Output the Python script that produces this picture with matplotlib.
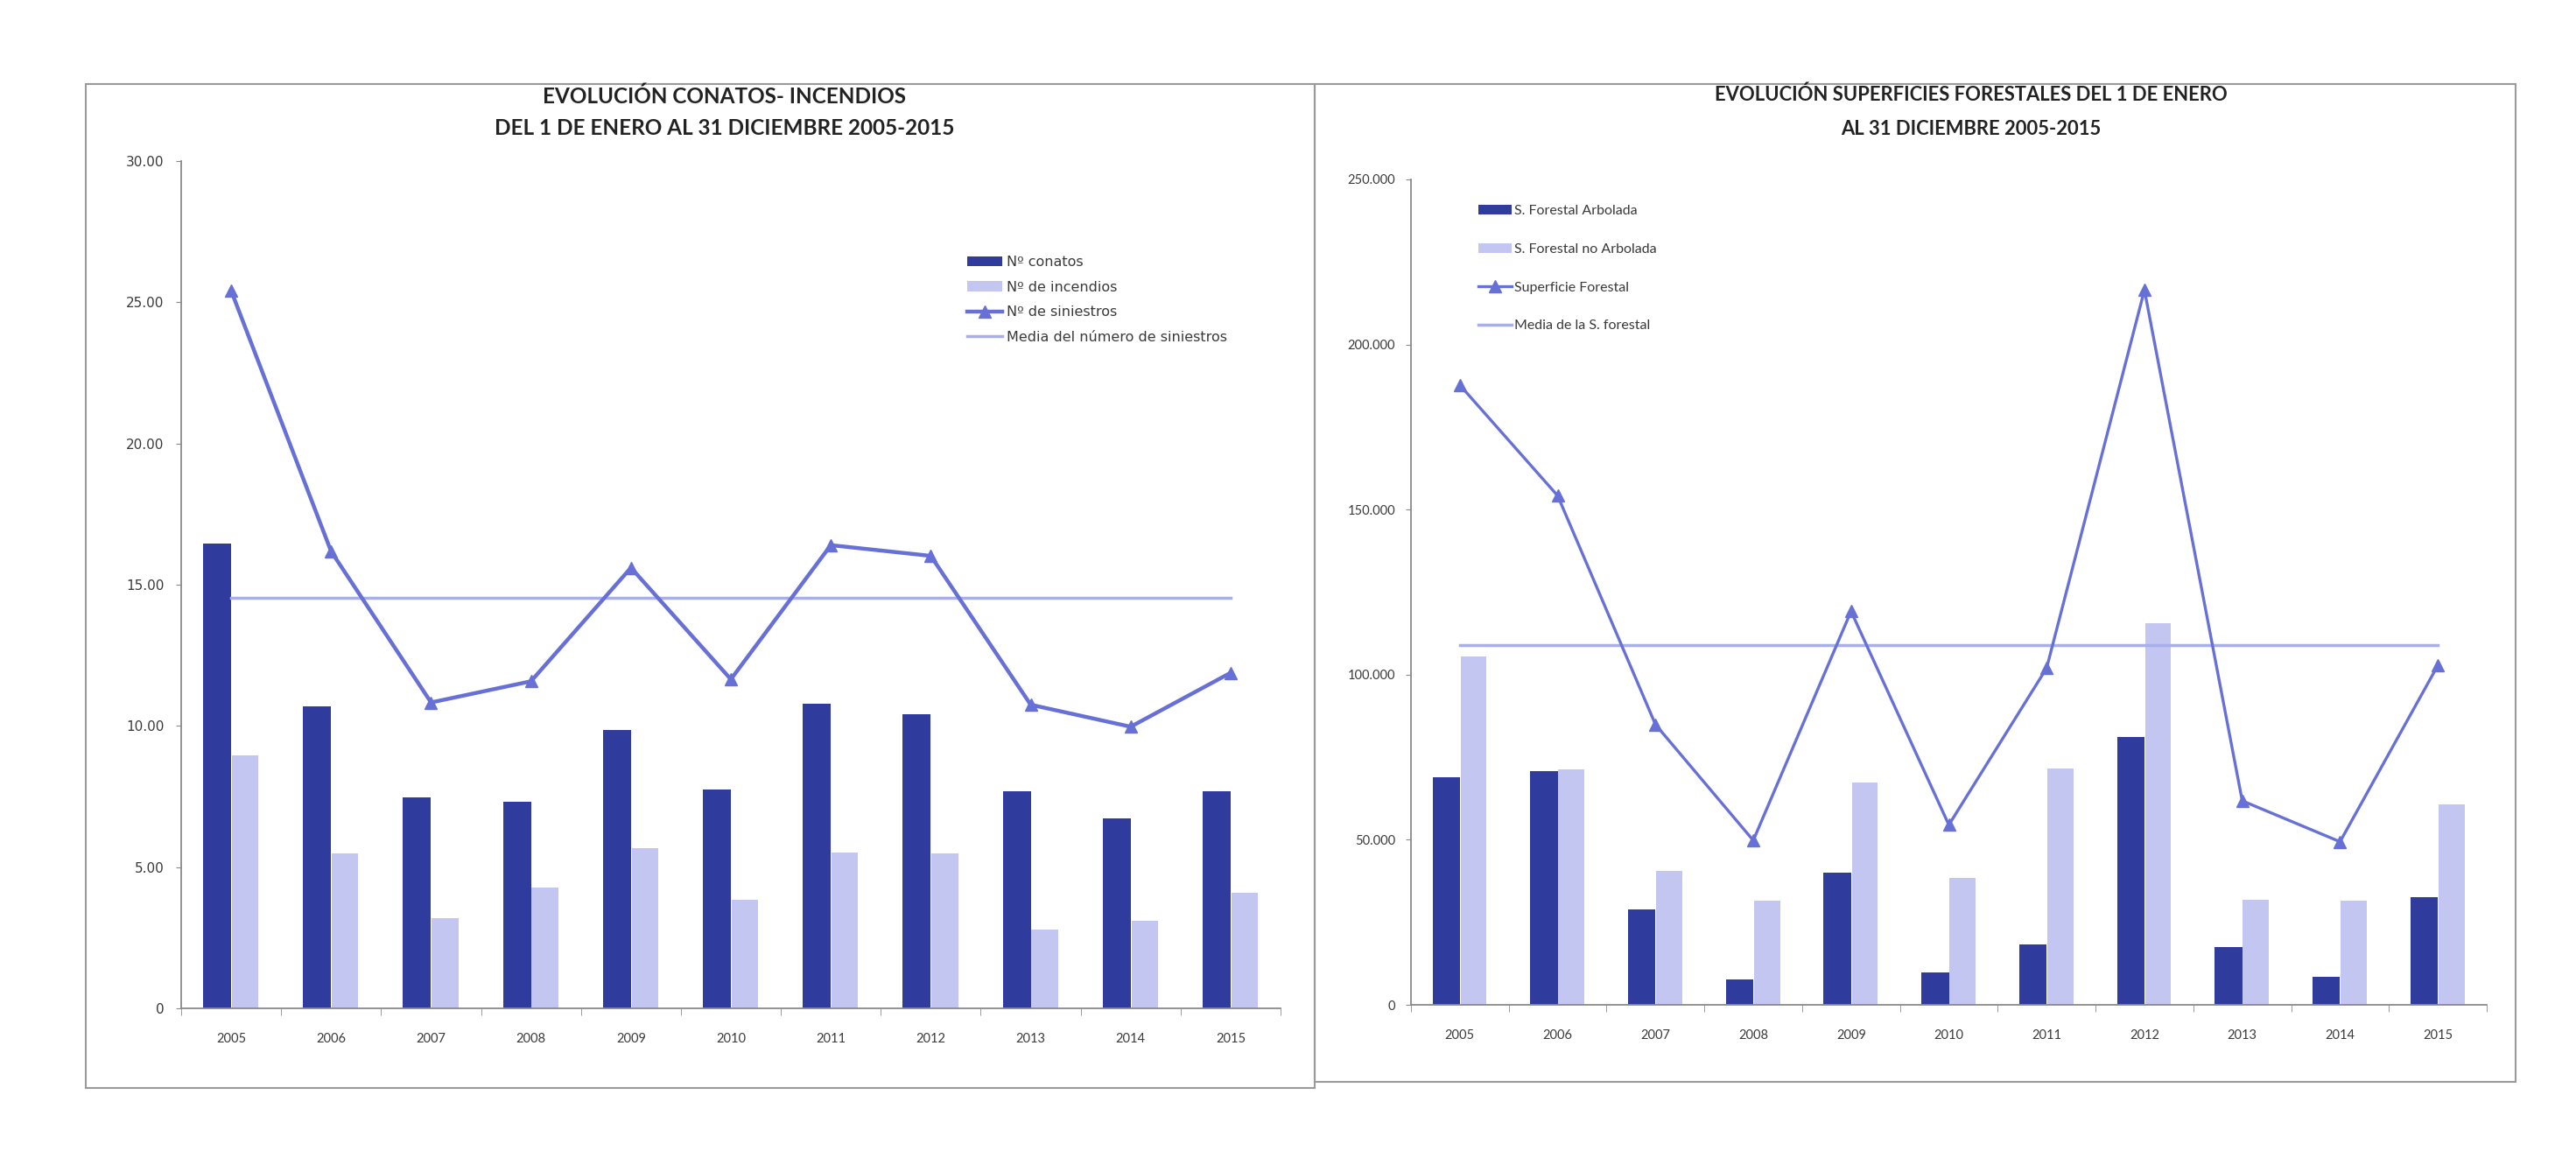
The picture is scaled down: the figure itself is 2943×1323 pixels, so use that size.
import matplotlib
matplotlib.use("Agg")
import matplotlib.pyplot as plt
from matplotlib.patches import Rectangle
import numpy as np

plt.rcParams['font.family'] = ['Lato', 'DejaVu Sans']

# ---------------- data ----------------
years = ["2005", "2006", "2007", "2008", "2009", "2010", "2011", "2012", "2013", "2014", "2015"]

# left chart
n_conatos = [16.45, 10.70, 7.48, 7.30, 9.86, 7.74, 10.78, 10.40, 7.70, 6.71, 7.70]
n_incendios = [8.96, 5.48, 3.18, 4.28, 5.67, 3.85, 5.53, 5.48, 2.78, 3.10, 4.09]
n_siniestros = [25.41, 16.18, 10.83, 11.58, 15.60, 11.65, 16.40, 16.02, 10.75, 9.97, 11.88]
media_siniestros = 14.52
left_yticks = [0, 5, 10, 15, 20, 25, 30]
left_yticklabels = ["0", "5.00", "10.00", "15.00", "20.00", "25.00", "30.00"]

# right chart
s_arbolada = [68800, 70900, 28800, 7800, 40000, 9800, 18400, 81000, 17400, 8600, 32700]
s_no_arbolada = [105600, 71200, 40500, 31500, 67300, 38500, 71700, 115700, 31900, 31500, 60700]
s_forestal = [187700, 154200, 84900, 49800, 119200, 54500, 102000, 216500, 61800, 49400, 102800]
media_forestal = 109000
right_yticks = [0, 50000, 100000, 150000, 200000, 250000]
right_yticklabels = ["0", "50.000", "100.000", "150.000", "200.000", "250.000"]

# ---------------- styles ----------------
DARK = "#2F3C9E"
LIGHT = "#C2C6F0"
LINE = "#6670D6"
MEAN = "#A9AFEA"
AXC = "#8A8A8A"
TXT = "#3A3A3A"

W, H = 2943, 1323
fig = plt.figure(figsize=(W / 100, H / 100), dpi=100)
fig.patch.set_facecolor("white")

# panel frames
fig.patches.append(Rectangle((98 / W, 1 - 1243 / H), (1502 - 98) / W, (1243 - 96) / H,
                             transform=fig.transFigure, fill=False, edgecolor="#9A9A9A", lw=1.5))
fig.patches.append(Rectangle((1502 / W, 1 - 1236 / H), (2874 - 1502) / W, (1236 - 96) / H,
                             transform=fig.transFigure, fill=False, edgecolor="#9A9A9A", lw=1.5))

x = np.arange(len(years))
bw = 0.28


def style_axes(ax, fs_y, fs_x, ypad, yfam):
    for s in ["top", "right"]:
        ax.spines[s].set_visible(False)
    for s in ["left", "bottom"]:
        ax.spines[s].set_color(AXC)
        ax.spines[s].set_linewidth(1.3)
    ax.set_xlim(-0.5, len(years) - 0.5)
    ax.set_xticks(x)
    ax.set_xticklabels(years, fontsize=fs_x, color=TXT)
    ax.set_xticks(np.arange(len(years) + 1) - 0.5, minor=True)
    ax.tick_params(axis="x", which="major", length=0, pad=20)
    ax.tick_params(axis="x", which="minor", length=6, color=AXC, direction="out")
    ax.tick_params(axis="y", length=4, color=AXC, pad=ypad, labelsize=fs_y, labelcolor=TXT)
    for t in ax.get_yticklabels():
        t.set_family(yfam)


def ordered_legend(ax, **kw):
    h, l = ax.get_legend_handles_labels()
    order = [2, 3, 0, 1]
    return ax.legend([h[i] for i in order], [l[i] for i in order], **kw)


# ---------------- left chart ----------------
axL = fig.add_axes([207 / W, 1 - 1152 / H, (1463 - 207) / W, (1152 - 184) / H])
axL.plot(x, n_siniestros, color=LINE, lw=3.2, marker="^", markersize=10,
         label="Nº de siniestros", zorder=4)
axL.plot(x, [media_siniestros] * len(years), color=MEAN, lw=2.5,
         label="Media del número de siniestros", zorder=3)
axL.bar(x - bw / 2, n_conatos, width=bw, color=DARK, label="Nº conatos", zorder=2)
axL.bar(x + bw / 2, n_incendios, width=bw * 0.95, color=LIGHT, label="Nº de incendios", zorder=2)
axL.set_ylim(0, 30)
axL.set_yticks(left_yticks)
axL.set_yticklabels(left_yticklabels)
style_axes(axL, 11, 10.5, 10, ['DejaVu Sans'])
ordered_legend(axL, loc="upper left", bbox_to_anchor=((1105 - 207) / 1256, (1152 - 292) / 968),
               frameon=False, prop={'family': ['DejaVu Sans'], 'size': 11.5},
               borderpad=0, borderaxespad=0,
               labelspacing=0.85, handlelength=2.5, handletextpad=0.3, numpoints=1,
               labelcolor=TXT)

fig.text(828 / W, 1 - 110 / H, "EVOLUCIÓN CONATOS- INCENDIOS", ha="center", va="center",
         fontsize=17.5, fontweight="bold", color="#222222")
fig.text(828 / W, 1 - 147 / H, "DEL 1 DE ENERO AL 31 DICIEMBRE 2005-2015", ha="center",
         va="center", fontsize=17.5, fontweight="bold", color="#222222")

# ---------------- right chart ----------------
axR = fig.add_axes([1612 / W, 1 - 1148 / H, (2841 - 1612) / W, (1148 - 205) / H])
axR.plot(x, s_forestal, color=LINE, lw=2.4, marker="^", markersize=10,
         label="Superficie Forestal", zorder=4)
axR.plot(x, [media_forestal] * len(years), color=MEAN, lw=2.5,
         label="Media de la S. forestal", zorder=3)
axR.bar(x - bw / 2, s_arbolada, width=bw, color=DARK, label="S. Forestal Arbolada", zorder=2)
axR.bar(x + bw / 2, s_no_arbolada, width=bw * 0.95, color=LIGHT,
        label="S. Forestal no Arbolada", zorder=2)
axR.set_ylim(0, 250000)
axR.set_yticks(right_yticks)
axR.set_yticklabels(right_yticklabels)
style_axes(axR, 10.5, 10.5, 9, ['Lato'])
ordered_legend(axR, loc="upper left", bbox_to_anchor=((1689 - 1612) / 1229, (1148 - 234) / 943),
               frameon=False, fontsize=11.5, borderpad=0, borderaxespad=0,
               labelspacing=1.85, handlelength=2.4, handletextpad=0.15, numpoints=1,
               labelcolor=TXT)

fig.text(2252 / W, 1 - 108 / H, "EVOLUCIÓN SUPERFICIES FORESTALES DEL 1 DE ENERO",
         ha="center", va="center", fontsize=15.8, fontweight="bold", color="#222222")
fig.text(2252 / W, 1 - 148 / H, "AL 31 DICIEMBRE 2005-2015", ha="center", va="center",
         fontsize=15.8, fontweight="bold", color="#222222")

fig.savefig("out.png", dpi=100, facecolor="white")
